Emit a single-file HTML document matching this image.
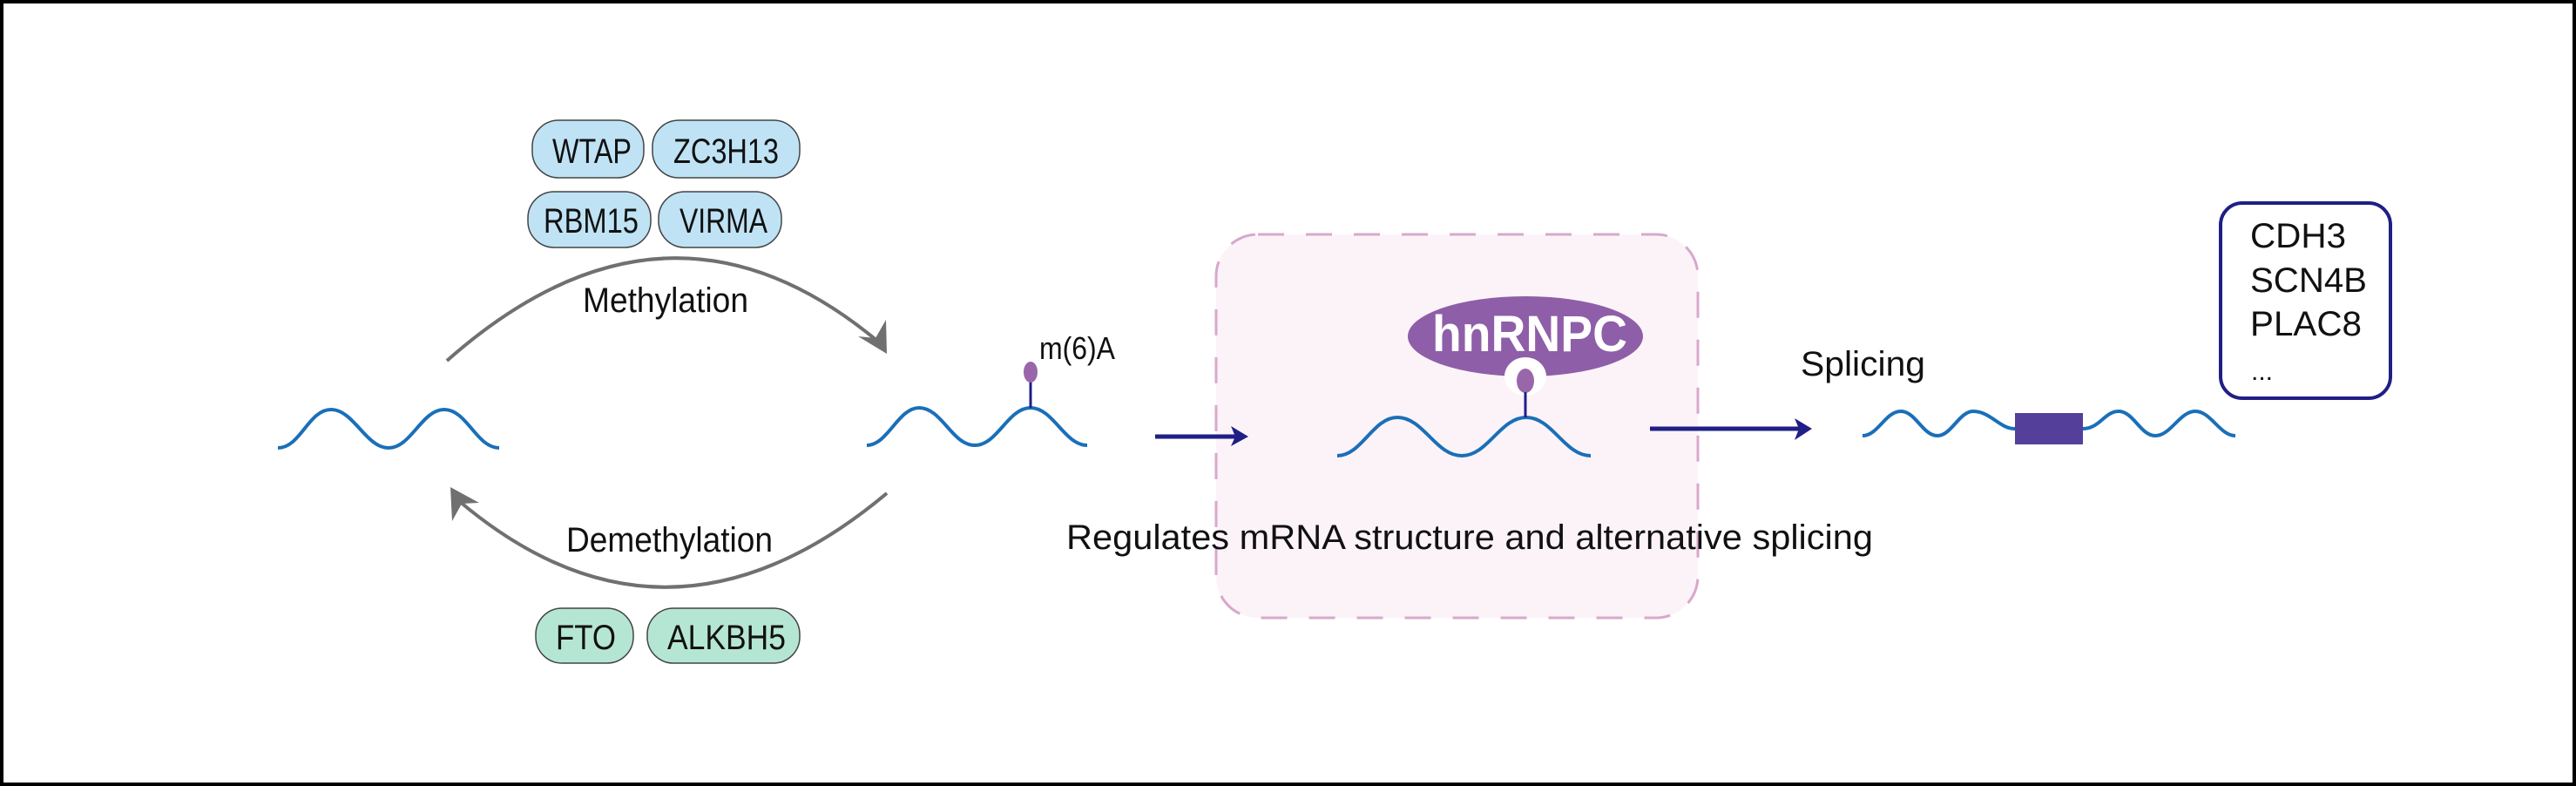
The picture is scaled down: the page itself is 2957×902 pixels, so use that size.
<!DOCTYPE html>
<html><head><meta charset="utf-8"><style>
html,body{margin:0;padding:0;background:#fff}
svg{display:block}
text{font-family:"Liberation Sans",Arial,sans-serif;fill:#111}
</style></head><body>
<svg width="2957" height="902" viewBox="0 0 2957 902" xmlns="http://www.w3.org/2000/svg">
<rect x="2" y="2" width="2953" height="898" fill="#fff" stroke="#000" stroke-width="4"/>

<!-- pills -->
<g stroke="#444" stroke-width="1.5">
<rect x="611" y="138" width="128" height="66" rx="30" fill="#bfe3f5"/>
<rect x="749" y="138" width="169" height="66" rx="30" fill="#bfe3f5"/>
<rect x="606" y="220" width="141" height="64" rx="30" fill="#bfe3f5"/>
<rect x="756" y="220" width="141" height="64" rx="30" fill="#bfe3f5"/>
<rect x="615" y="698" width="112" height="63" rx="30" fill="#b5e6d3"/>
<rect x="743" y="698" width="175" height="63" rx="30" fill="#b5e6d3"/>
</g>
<text x="634" y="187" font-size="40" textLength="91" lengthAdjust="spacingAndGlyphs">WTAP</text>
<text x="773" y="187" font-size="40" textLength="121" lengthAdjust="spacingAndGlyphs">ZC3H13</text>
<text x="624" y="267" font-size="40" textLength="109" lengthAdjust="spacingAndGlyphs">RBM15</text>
<text x="780" y="267" font-size="40" textLength="101" lengthAdjust="spacingAndGlyphs">VIRMA</text>
<text x="638" y="745" font-size="40" textLength="69" lengthAdjust="spacingAndGlyphs">FTO</text>
<text x="766" y="745" font-size="40" textLength="136" lengthAdjust="spacingAndGlyphs">ALKBH5</text>

<!-- arcs -->
<g fill="none" stroke="#707070" stroke-width="4">
<path d="M513,414 Q766,190 1008,392"/>
<path d="M1018,566 Q766,777 527,575"/>
</g>
<polygon points="1018,406 985,386 1005,388 1017,367" fill="#707070"/>
<polygon points="517,559 550,577 530,578 519,598" fill="#707070"/>
<text x="669" y="358" font-size="40" textLength="190" lengthAdjust="spacingAndGlyphs">Methylation</text>
<text x="650" y="633" font-size="40" textLength="237" lengthAdjust="spacingAndGlyphs">Demethylation</text>

<!-- dashed box -->
<rect x="1396" y="269" width="553" height="440" rx="48" fill="#fcf3f8" stroke="#d8a8cc" stroke-width="3" stroke-dasharray="30,25"/>

<!-- waves -->
<g fill="none" stroke="#1a6fb8" stroke-width="4">
<path d="M319,514 C345,514 354,470 380,470 C406,470 420,514 446,514 C472,514 484,470 510,470 C536,470 547,514 573,514"/>
<path d="M995,511 C1019,511 1031,468 1055,468 C1081,468 1093,511 1119,511 C1145,511 1157,468 1183,468 C1209,468 1222,511 1248,511"/>
<path d="M1535,523 C1563,523 1576,479 1604,479 C1634,479 1648,523 1678,523 C1708,523 1722,479 1752,479 C1782,479 1796,523 1826,523"/>
<path d="M2138,500 C2156,500 2164,472 2182,472 C2199,472 2207,500 2224,500 C2240,500 2249,472 2265,472 C2285,472 2295,492 2313,492"/>
<path d="M2391,492 C2410,492 2416,472 2432,472 C2449,472 2457,500 2474,500 C2492,500 2502,472 2520,472 C2538,472 2548,500 2566,500"/>
</g>
<rect x="2313" y="474" width="78" height="36" fill="#54409a"/>

<!-- m6A lollipop -->
<line x1="1183" y1="468" x2="1183" y2="438" stroke="#1f1f85" stroke-width="3"/>
<ellipse cx="1183" cy="427" rx="8" ry="12" fill="#9a66aa"/>
<text x="1193" y="412" font-size="36" textLength="87" lengthAdjust="spacingAndGlyphs">m(6)A</text>

<!-- hnRNPC -->
<ellipse cx="1751" cy="386" rx="135" ry="46" fill="#8f5ea8"/>
<text x="1644" y="403" font-size="58" font-weight="bold" style="fill:#fff" textLength="224" lengthAdjust="spacingAndGlyphs">hnRNPC</text>
<ellipse cx="1751" cy="432" rx="24" ry="22" fill="#fff"/>
<ellipse cx="1751" cy="437" rx="10" ry="14" fill="#9a66aa"/>
<line x1="1751" y1="450" x2="1751" y2="479" stroke="#1f1f85" stroke-width="3"/>

<!-- arrows -->
<line x1="1326" y1="501" x2="1420" y2="501" stroke="#1f1f85" stroke-width="5"/>
<polygon points="1433,501 1413,489 1418,501 1413,512" fill="#1f1f85"/>
<line x1="1894" y1="492" x2="2067" y2="492" stroke="#1f1f85" stroke-width="5"/>
<polygon points="2080,492 2060,480 2065,492 2060,505" fill="#1f1f85"/>

<text x="1224" y="630" font-size="40" textLength="926" lengthAdjust="spacingAndGlyphs">Regulates mRNA structure and alternative splicing</text>
<text x="2067" y="431" font-size="40" textLength="143" lengthAdjust="spacingAndGlyphs">Splicing</text>

<!-- gene box -->
<rect x="2549" y="233" width="195" height="224" rx="25" fill="#fff" stroke="#1f1f85" stroke-width="4"/>
<text x="2583" y="284" font-size="40" textLength="110" lengthAdjust="spacingAndGlyphs">CDH3</text>
<text x="2583" y="335" font-size="40" textLength="134" lengthAdjust="spacingAndGlyphs">SCN4B</text>
<text x="2583" y="385" font-size="40" textLength="128" lengthAdjust="spacingAndGlyphs">PLAC8</text>
<text x="2584" y="436" font-size="30">...</text>
</svg>
</body></html>
